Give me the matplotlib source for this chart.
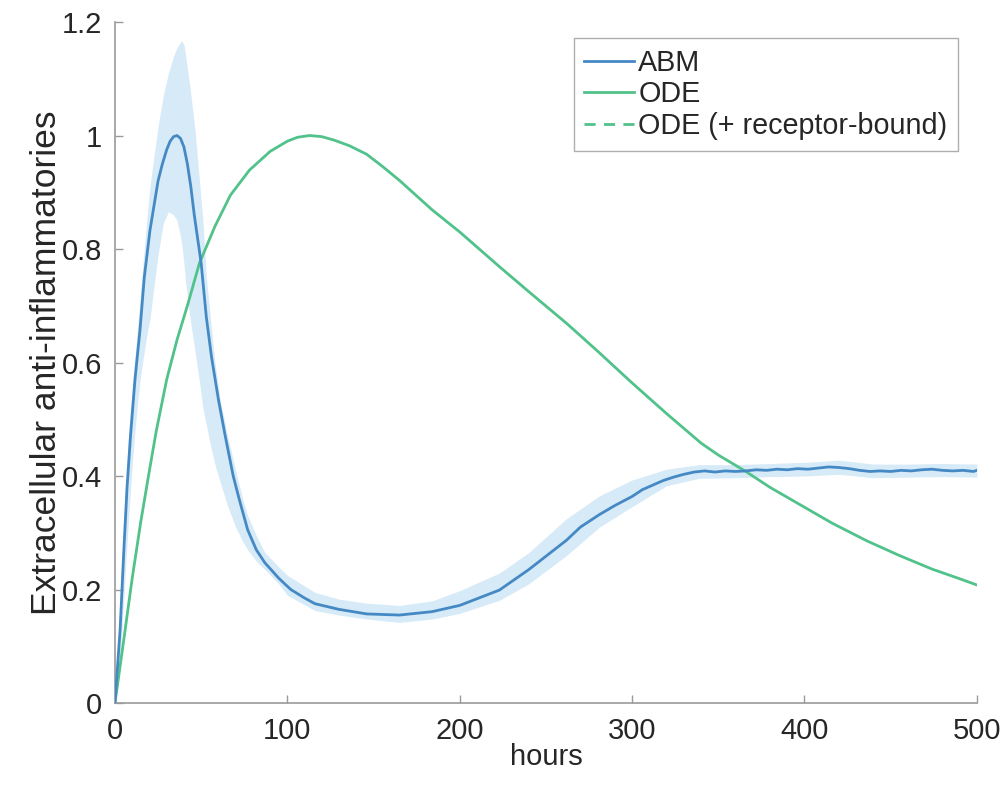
import matplotlib
matplotlib.use("Agg")
import matplotlib.pyplot as plt
from matplotlib.lines import Line2D

plt.rcParams['font.family'] = ['Liberation Sans', 'DejaVu Sans']

# ABM mean curve
abm_t = [0, 3, 5, 7, 9, 11.6, 14.5, 17, 20.3, 25, 27.5, 30, 32, 34, 36, 38, 40, 42, 44, 46, 50, 53, 56, 60, 64,
         68.6, 72, 77, 82, 87, 95, 102, 110, 116, 130, 146, 165, 184, 200, 223, 240, 262, 270, 281, 290,
         300, 306, 312, 318, 324, 330, 336, 342, 348, 354, 360, 366, 372, 378, 384, 390, 396,
         402, 408, 414, 420, 426, 432, 438, 444, 450, 456, 462, 468, 474, 480, 486, 492, 498, 500]
abm_y = [0, 0.13, 0.26, 0.38, 0.47, 0.57, 0.657, 0.75, 0.833, 0.92, 0.95, 0.975, 0.99, 0.998, 1.0, 0.995, 0.98, 0.95, 0.91, 0.86, 0.775, 0.68, 0.61, 0.535, 0.47,
         0.40, 0.36, 0.305, 0.27, 0.247, 0.22, 0.2, 0.185, 0.175, 0.165, 0.157, 0.155, 0.161, 0.172, 0.199, 0.235, 0.287, 0.31, 0.332, 0.348,
         0.364, 0.376, 0.384, 0.392, 0.398, 0.403, 0.407, 0.409, 0.407, 0.409, 0.408, 0.409, 0.411, 0.41, 0.412, 0.411, 0.413,
         0.412, 0.414, 0.416, 0.415, 0.413, 0.41, 0.408, 0.409, 0.408, 0.41, 0.409, 0.411, 0.412, 0.41, 0.409, 0.41, 0.408, 0.41]

# ABM shaded band
band_t = [0, 3, 5, 8, 10, 11.6, 13.5, 15, 17, 19, 20.3, 22, 25, 28, 31, 34, 36, 37.5, 38.7, 40, 41, 43.5, 46.4,
          49.3, 51, 53, 55, 58, 61, 65, 70, 74, 77, 82, 87, 95, 100, 116, 130, 146, 165, 184, 200,
          223, 240, 262, 281, 300, 320, 339, 360, 380, 400, 420, 440, 460, 480, 500]
band_hi = [0.0, 0.18, 0.32, 0.48, 0.55, 0.61, 0.675, 0.73, 0.8, 0.87, 0.91, 0.95, 1.016, 1.07, 1.11, 1.14, 1.155, 1.162, 1.167, 1.16, 1.14, 1.086, 1.01,
           0.91, 0.85, 0.75, 0.69, 0.60, 0.535, 0.475, 0.41, 0.36, 0.33, 0.295, 0.265, 0.24, 0.225, 0.195, 0.183, 0.176, 0.172, 0.18, 0.198,
           0.229, 0.265, 0.325, 0.365, 0.393, 0.412, 0.42, 0.42, 0.422, 0.424, 0.428, 0.421, 0.421, 0.422, 0.421]
band_lo = [0.0, 0.08, 0.18, 0.33, 0.42, 0.48, 0.54, 0.58, 0.62, 0.657, 0.675, 0.72, 0.79, 0.845, 0.866, 0.86, 0.85, 0.83, 0.81, 0.775, 0.74, 0.68, 0.62,
           0.56, 0.52, 0.49, 0.46, 0.42, 0.39, 0.35, 0.31, 0.285, 0.27, 0.25, 0.235, 0.21, 0.19, 0.163, 0.155, 0.148, 0.142, 0.148, 0.158,
           0.181, 0.21, 0.26, 0.31, 0.346, 0.383, 0.396, 0.397, 0.399, 0.40, 0.403, 0.397, 0.398, 0.399, 0.398]

# ODE curve
ode_t = [0, 5.5, 10, 15, 20, 24, 30, 36, 42, 49, 58, 67, 78, 90, 100, 106, 113, 120, 127, 136, 146, 155, 165, 184, 200,
         223, 240, 262, 280, 300, 320, 340, 350, 366, 380, 400, 416, 436, 455, 474, 490, 500]
ode_y = [0, 0.12, 0.22, 0.32, 0.41, 0.48, 0.57, 0.64, 0.70, 0.775, 0.84, 0.895, 0.939, 0.972, 0.99, 0.997, 1.0, 0.998, 0.992, 0.982, 0.967, 0.946, 0.921, 0.869, 0.83,
         0.769, 0.725, 0.669, 0.62, 0.564, 0.51, 0.458, 0.437, 0.408, 0.38, 0.345, 0.317, 0.286, 0.26, 0.236, 0.219, 0.208]

x_ticks = [0, 100, 200, 300, 400, 500]
y_ticks = [0, 0.2, 0.4, 0.6, 0.8, 1.0, 1.2]
y_tick_labels = ['0', '0.2', '0.4', '0.6', '0.8', '1', '1.2']
legend_labels = ['ABM', 'ODE', 'ODE (+ receptor-bound)']

abm_color = '#4589c4'
band_color = '#d6eaf7'
ode_color = '#50c28a'
text_color = '#262626'

fig = plt.figure(figsize=(10.05, 7.95), dpi=100)
ax = fig.add_axes([0.1144, 0.1157, 0.8576, 0.8566])

ax.fill_between(band_t, band_lo, band_hi, color=band_color, linewidth=0, zorder=1)
ax.plot(abm_t, abm_y, color=abm_color, linewidth=2.0, zorder=3)
ax.plot(ode_t, ode_y, color=ode_color, linewidth=2.0, zorder=2)

ax.set_xlim(0, 500)
ax.set_ylim(0, 1.2)
ax.set_xticks(x_ticks)
ax.set_yticks(y_ticks)
ax.set_yticklabels(y_tick_labels)

for s in ['top', 'right']:
    ax.spines[s].set_visible(False)
for s in ['left', 'bottom']:
    ax.spines[s].set_color('#9a9a9a')
    ax.spines[s].set_linewidth(1.2)
ax.tick_params(direction='in', length=6, width=1.0, color='#9a9a9a',
               labelsize=21, labelcolor=text_color)
ax.tick_params(axis='y', pad=9.5)
ax.tick_params(axis='x', pad=10)

ax.set_xlabel('hours', fontsize=21, color=text_color, labelpad=-1.5)
ax.set_ylabel('Extracellular anti-inflammatories', fontsize=25.5, color=text_color, labelpad=-1)

handles = [Line2D([], [], color=abm_color, linewidth=2.0),
           Line2D([], [], color=ode_color, linewidth=2.0),
           Line2D([], [], color=ode_color, linewidth=2.0, linestyle=(0, (4, 3)))]
leg = ax.legend(handles, legend_labels, loc='upper right', bbox_to_anchor=(0.978, 0.976),
                fontsize=20.7, frameon=True, fancybox=False, edgecolor='#9a9a9a',
                borderaxespad=0, handlelength=1.75, handletextpad=0.14, labelspacing=0.13,
                borderpad=0.36)
leg.get_frame().set_linewidth(1.0)
for t in leg.get_texts():
    t.set_color(text_color)

fig.savefig('out.png', dpi=100)
